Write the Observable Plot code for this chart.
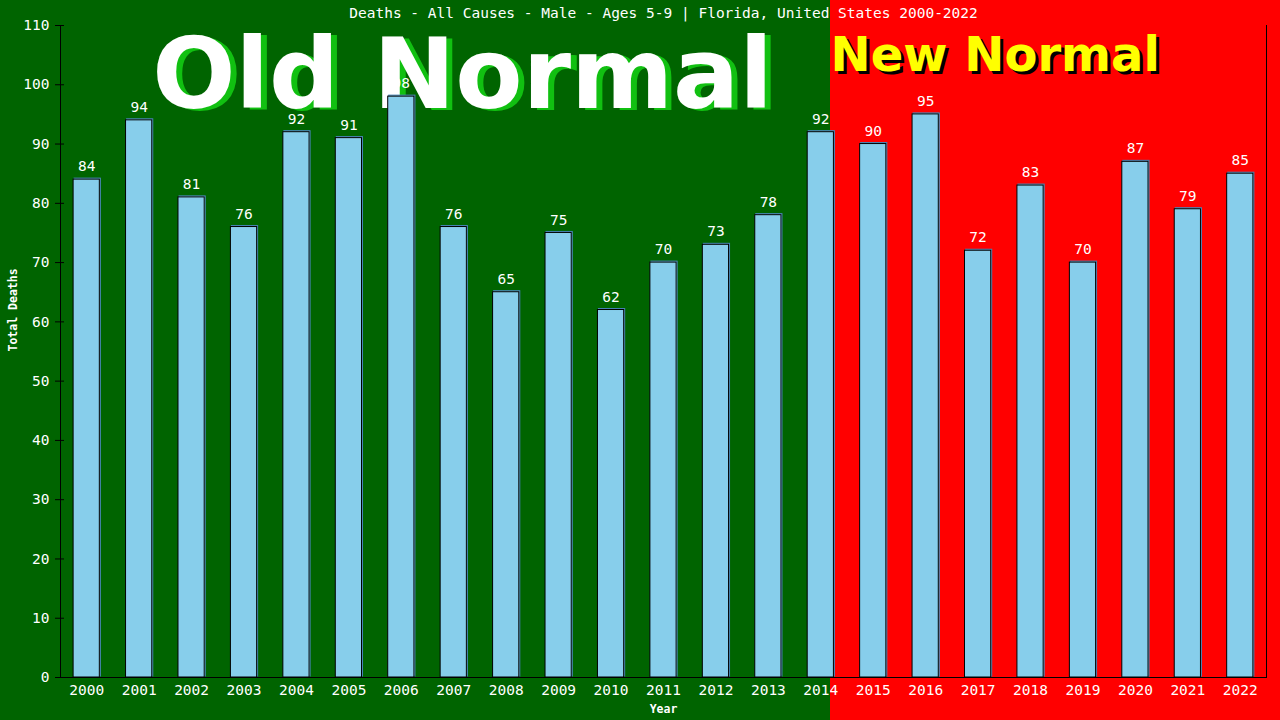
<!DOCTYPE html>
<html>
<head>
<meta charset="utf-8">
<script src="https://cdn.jsdelivr.net/npm/d3@7"></script>
<script src="https://cdn.jsdelivr.net/npm/@observablehq/plot@0.6"></script>
<style>
  html, body { margin: 0; padding: 0; background: #006400; }
  #chart { width: 1280px; height: 720px; }
</style>
</head>
<body>
<div id="chart"></div>
<script>
const years = ["2000","2001","2002","2003","2004","2005","2006","2007","2008","2009","2010","2011","2012","2013","2014","2015","2016","2017","2018","2019","2020","2021","2022"];
const deaths = [84,94,81,76,92,91,98,76,65,75,62,70,73,78,92,90,95,72,83,70,87,79,85];
const yTicks = [0,10,20,30,40,50,60,70,80,90,100,110];
const title = "Deaths - All Causes - Male - Ages 5-9 | Florida, United States 2000-2022";
const oldLabel = "Old Normal";
const newLabel = "New Normal";
const xLabel = "Year";
const yLabel = "Total Deaths";

const data = years.map((y, i) => ({year: y, value: deaths[i]}));
const mono = "'DejaVu Sans Mono', 'Liberation Mono', monospace";
const sansBold = "'DejaVu Sans', Verdana, sans-serif";

const chart = Plot.plot({
  width: 1280,
  height: 720,
  marginLeft: 60,
  marginRight: 14,
  marginTop: 25,
  marginBottom: 43,
  style: {
    background: "linear-gradient(to right, #006400 830px, #ff0000 830px)",
    fontFamily: mono,
    color: "white",
    overflow: "visible"
  },
  x: {domain: years, paddingInner: 0.5, paddingOuter: 0.25, round: false, axis: null},
  y: {domain: [0, 110], axis: null},
  marks: [
    Plot.text([oldLabel], {frameAnchor: "top-left", dx: 408, dy: 84, textAnchor: "middle", lineAnchor: "bottom",
      fontFamily: sansBold, fontWeight: "bold", fontSize: 98, fill: "#11c011"}),
    Plot.text([oldLabel], {frameAnchor: "top-left", dx: 402, dy: 82, textAnchor: "middle", lineAnchor: "bottom",
      fontFamily: sansBold, fontWeight: "bold", fontSize: 98, fill: "white"}),
    Plot.text([newLabel], {frameAnchor: "top-left", dx: 773, dy: 48, textAnchor: "start", lineAnchor: "bottom",
      fontFamily: sansBold, fontWeight: "bold", fontSize: 48, fill: "black"}),
    Plot.text([newLabel], {frameAnchor: "top-left", dx: 770, dy: 45, textAnchor: "start", lineAnchor: "bottom",
      fontFamily: sansBold, fontWeight: "bold", fontSize: 48, fill: "#ffff00"}),
    Plot.barY(data, {x: "year", y: "value", fill: "#87ceeb", stroke: "#4682b4", strokeWidth: 1, dx: 1, dy: -1}),
    Plot.barY(data, {x: "year", y: "value", fill: "#87ceeb", stroke: "black", strokeWidth: 1}),
    Plot.text(data, {x: "year", y: "value", text: d => String(d.value), dy: -13, fill: "white",
      fontSize: 14.5, fontFamily: mono}),
    Plot.frame({anchor: "left", stroke: "black"}),
    Plot.frame({anchor: "bottom", stroke: "black"}),
    Plot.frame({anchor: "right", stroke: "black"}),
    Plot.axisY({ticks: yTicks, tickSize: 9, tickPadding: 6, dx: 4, stroke: "black", fill: "white",
      fontSize: 14.5, fontFamily: mono, label: null}),
    Plot.axisX({tickSize: 0, tickPadding: 7, fill: "white", fontSize: 14.5, fontFamily: mono, label: null}),
    Plot.text([title], {frameAnchor: "top", dy: -12, lineAnchor: "middle", fill: "white", fontSize: 14.5, fontFamily: mono}),
    Plot.text([xLabel], {frameAnchor: "bottom", dy: 32, lineAnchor: "middle", fill: "white", fontSize: 11.5, fontWeight: "bold", fontFamily: mono}),
    Plot.text([yLabel], {frameAnchor: "left", dx: -47, rotate: -90, lineAnchor: "middle", fill: "white", fontSize: 11.5, fontWeight: "bold", fontFamily: mono})
  ]
});
document.getElementById("chart").appendChild(chart);
</script>
</body>
</html>
